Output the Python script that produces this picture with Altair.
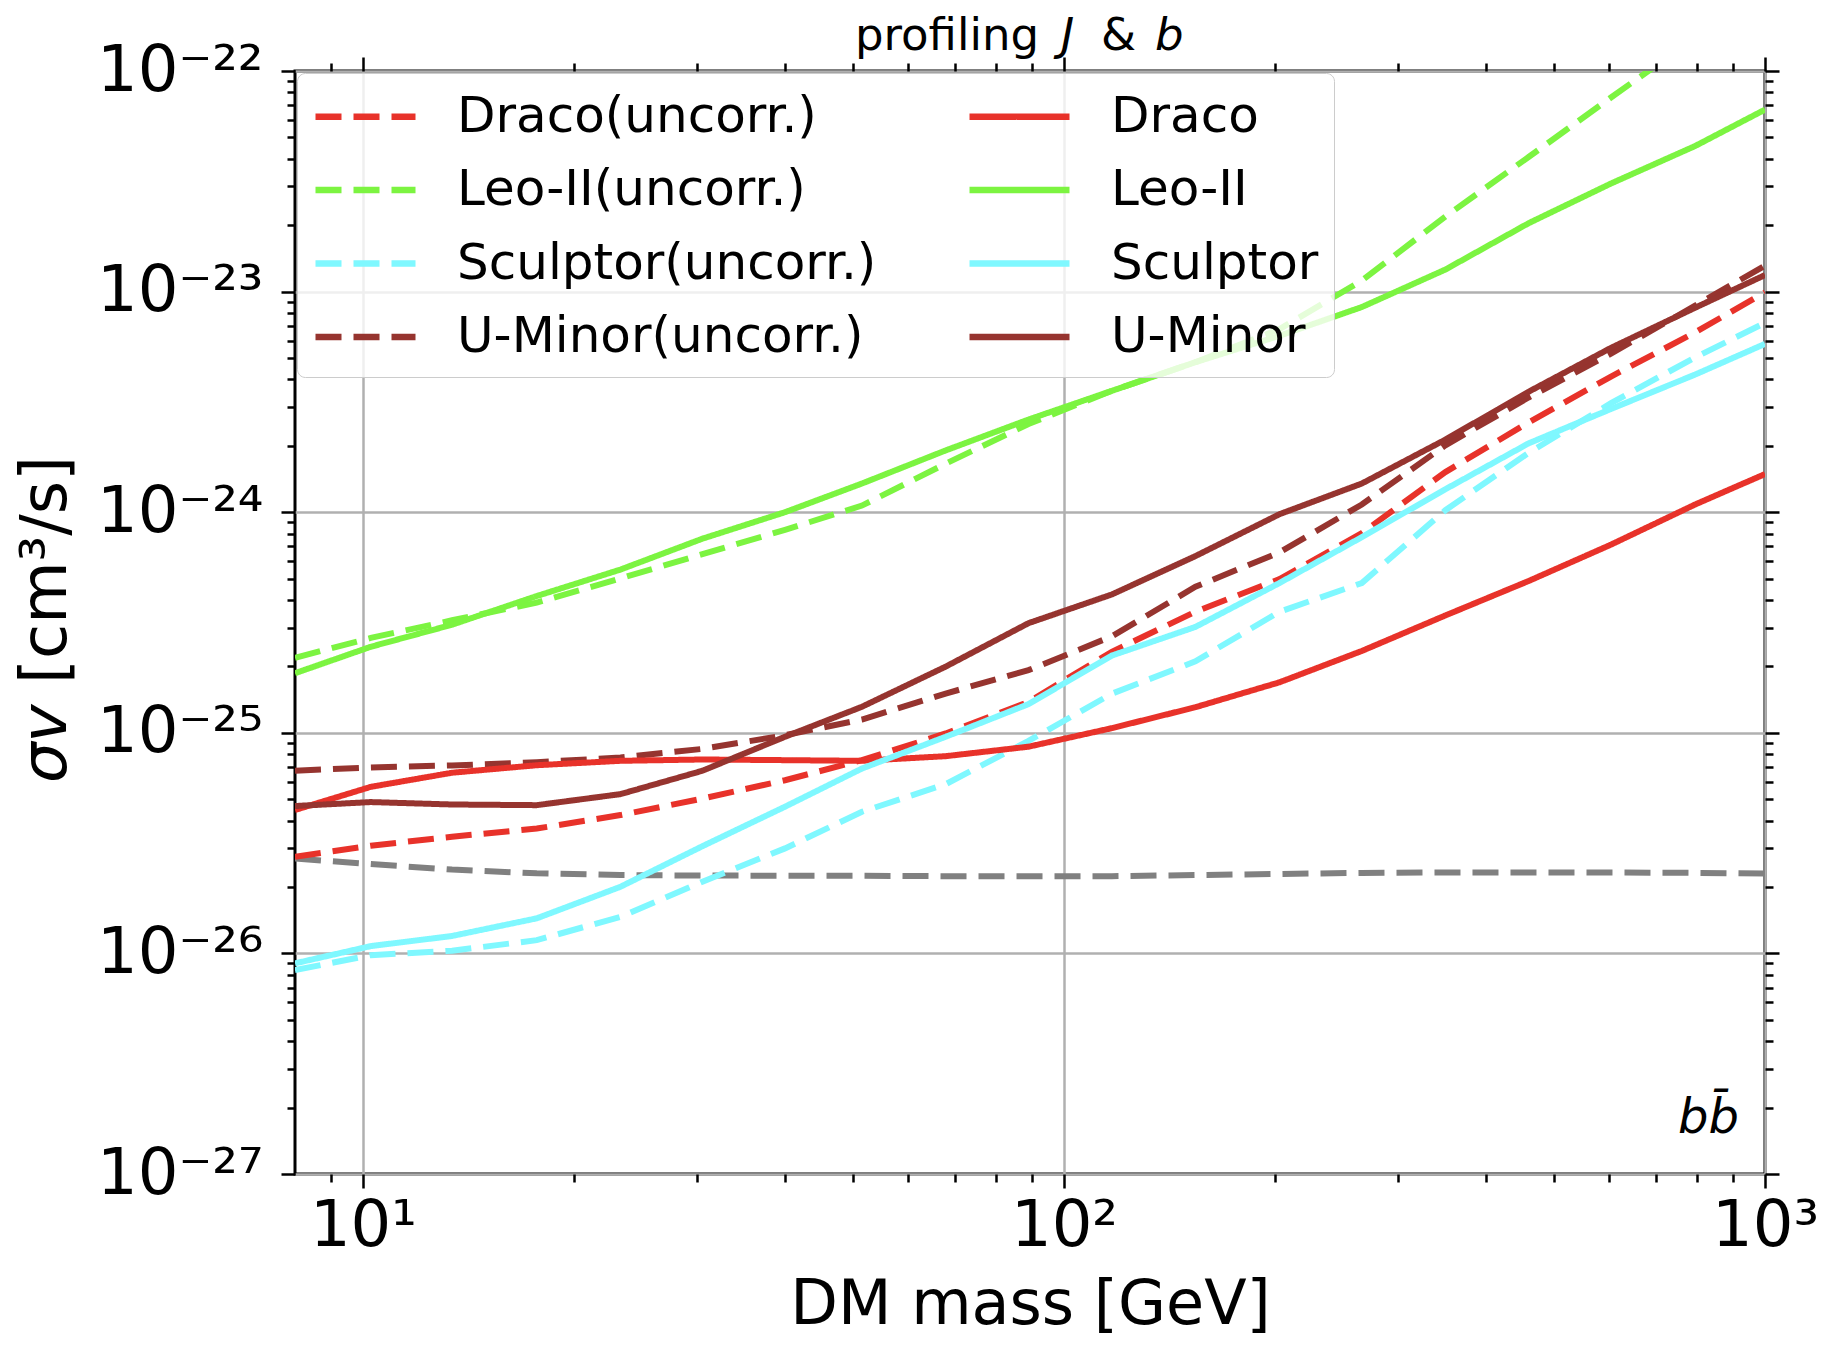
import altair as alt
import pandas as pd

FONT = "DejaVu Sans"

# DM mass grid [GeV]
mass = [8, 10.26, 13.4, 17.7, 23.3, 30.5, 40, 51.5, 67.8, 89, 117, 154, 203, 266, 350, 460, 603, 795, 1000]

# log10(sigma v)
draco_unc_log10 = [-25.562, -25.512, -25.471, -25.434, -25.373, -25.298, -25.215, -25.124, -25.003, -24.86,
                   -24.633, -24.451, -24.303, -24.095, -23.818, -23.593, -23.385, -23.185, -23.003]
draco_log10 = [-25.350, -25.245, -25.181, -25.147, -25.127, -25.121, -25.124, -25.127, -25.106, -25.063,
               -24.979, -24.884, -24.771, -24.629, -24.468, -24.312, -24.147, -23.965, -23.827]
leo_unc_log10 = [-24.66, -24.57, -24.49, -24.41, -24.30, -24.19, -24.08, -23.97, -23.78, -23.60,
                 -23.45, -23.32, -23.17, -22.95, -22.66, -22.39, -22.12, -21.85, -21.62]
leo_log10 = [-24.73, -24.61, -24.51, -24.38, -24.26, -24.12, -24.00, -23.87, -23.72, -23.58,
             -23.45, -23.32, -23.20, -23.07, -22.90, -22.69, -22.51, -22.34, -22.175]
scl_unc_log10 = [-26.076, -26.008, -25.988, -25.94, -25.834, -25.675, -25.524, -25.358, -25.233, -25.037,
                 -24.823, -24.676, -24.451, -24.321, -23.991, -23.731, -23.506, -23.298, -23.142]
scl_log10 = [-26.045, -25.967, -25.921, -25.841, -25.698, -25.514, -25.335, -25.162, -25.018, -24.87,
             -24.65, -24.52, -24.321, -24.113, -23.896, -23.688, -23.532, -23.376, -23.237]
umi_unc_log10 = [-25.172, -25.157, -25.148, -25.133, -25.112, -25.073, -25.011, -24.94, -24.822, -24.716,
                 -24.563, -24.338, -24.182, -23.965, -23.697, -23.48, -23.281, -23.064, -22.882]
umi_log10 = [-25.332, -25.314, -25.325, -25.328, -25.278, -25.172, -25.018, -24.882, -24.70, -24.503,
             -24.373, -24.199, -24.009, -23.870, -23.671, -23.454, -23.255, -23.073, -22.925]
relic_log10 = [-25.57, -25.595, -25.62, -25.637, -25.645, -25.647, -25.648, -25.648, -25.65, -25.65,
               -25.65, -25.645, -25.64, -25.635, -25.633, -25.633, -25.633, -25.635, -25.638]

# legend fills column by column: uncorrelated limits on the left, profiled ones on the right
series_names = ["Draco(uncorr.)", "Leo-II(uncorr.)", "Sculptor(uncorr.)", "U-Minor(uncorr.)",
                "Draco", "Leo-II", "Sculptor", "U-Minor"]
series_values = [draco_unc_log10, leo_unc_log10, scl_unc_log10, umi_unc_log10,
                 draco_log10, leo_log10, scl_log10, umi_log10]
RED, GREEN, CYAN, BROWN = "#e8322a", "#7cf441", "#7ff8ff", "#96342f"
series_colors = [RED, GREEN, CYAN, BROWN, RED, GREEN, CYAN, BROWN]
DASH = [26, 12]
SOLID = [1, 0]
series_dashes = [DASH, DASH, DASH, DASH, SOLID, SOLID, SOLID, SOLID]

x_major = [10, 100, 1000]
x_major_labels = ["10¹", "10²", "10³"]
x_minor = [9] + [k * 10 for k in range(2, 10)] + [k * 100 for k in range(2, 10)]
y_exponents = [-27, -26, -25, -24, -23, -22]
y_major = [10.0 ** e for e in y_exponents]
y_major_labels = ["10⁻²⁷", "10⁻²⁶", "10⁻²⁵", "10⁻²⁴", "10⁻²³", "10⁻²²"]
y_minor = [k * 10.0 ** e for e in y_exponents[:-1] for k in range(2, 10)]

rows = []
for name, vals in zip(series_names, series_values):
    for m, e in zip(mass, vals):
        rows.append({"mass": m, "sv": 10.0 ** e, "series": name})
df = pd.DataFrame(rows)
relic_df = pd.DataFrame({"mass": mass, "sv": [10.0 ** e for e in relic_log10]})


def label_expr(exps, labels):
    parts = [f"round(log(datum.value)/LN10) == {e} ? '{l}'" for e, l in zip(exps, labels)]
    return " : ".join(parts) + " : ''"


x_scale = alt.Scale(type="log", domain=[8, 1000], nice=False)
y_scale = alt.Scale(type="log", domain=[1e-27, 1e-22], nice=False)

tick_common = dict(domain=False, tickColor="black", tickWidth=2.5)

ax_x_bottom = alt.Axis(orient="bottom", values=x_major, tickSize=14, grid=True, gridColor="#b0b0b0",
                       gridWidth=2.5, labelExpr=label_expr([1, 2, 3], x_major_labels), labelFont=FONT,
                       labelFontSize=64, labelColor="black", labelPadding=6, labelFlush=False,
                       labelOverlap=False, title="DM mass [GeV]", titleFont=FONT, titleFontSize=62,
                       titleFontWeight="normal", titleColor="black", titlePadding=16, **tick_common)
ax_y_left = alt.Axis(orient="left", values=y_major, tickSize=14, grid=True, gridColor="#b0b0b0",
                     gridWidth=2.5, labelExpr=label_expr(y_exponents, y_major_labels), labelFont=FONT,
                     labelFontSize=64, labelColor="black", labelPadding=18, labelFlush=False,
                     labelOverlap=False, title=None, **tick_common)


def plain_axis(orient, values, size):
    return alt.Axis(orient=orient, values=values, tickSize=size, grid=False, labels=False,
                    title=None, **tick_common)


legend = alt.Legend(orient="none", legendX=2, legendY=2, columns=2, title=None,
                    symbolType="M-1,0H3", symbolSize=2500, symbolStrokeWidth=6.5,
                    labelFont=FONT, labelFontSize=50, labelColor="black", labelOffset=88,
                    labelLimit=2000, columnPadding=79, rowPadding=19.5, padding=15,
                    fillColor="rgba(255,255,255,0.8)", strokeColor="#cccccc", cornerRadius=8)

lines = alt.Chart(df).mark_line(strokeWidth=6, clip=True).encode(
    x=alt.X("mass:Q", scale=x_scale, axis=ax_x_bottom),
    y=alt.Y("sv:Q", scale=y_scale, axis=ax_y_left),
    color=alt.Color("series:N", scale=alt.Scale(domain=series_names, range=series_colors), legend=legend),
    strokeDash=alt.StrokeDash("series:N", scale=alt.Scale(domain=series_names, range=series_dashes),
                              legend=legend),
)

relic = alt.Chart(relic_df).mark_line(strokeWidth=6, clip=True, color="#808080", strokeDash=DASH).encode(
    x=alt.X("mass:Q", scale=x_scale, axis=None),
    y=alt.Y("sv:Q", scale=y_scale, axis=None),
)


def axis_layer(xaxis, yaxis):
    return alt.Chart(relic_df).mark_line(opacity=0).encode(
        x=alt.X("mass:Q", scale=x_scale, axis=xaxis),
        y=alt.Y("sv:Q", scale=y_scale, axis=yaxis),
    )


ax_minor_bl = axis_layer(plain_axis("bottom", x_minor, 8), plain_axis("left", y_minor, 8))
ax_major_tr = axis_layer(plain_axis("top", x_major, 14), plain_axis("right", y_major, 14))
ax_minor_tr = axis_layer(plain_axis("top", x_minor, 8), plain_axis("right", y_minor, 8))


def text_layer(txt, style, size, xp, yp, align="left", baseline="alphabetic", angle=0):
    return alt.Chart(pd.DataFrame({"t": [txt]})).mark_text(
        font=FONT, fontSize=size, fontStyle=style, align=align, baseline=baseline,
        angle=angle, color="black").encode(text="t:N", x=alt.value(xp), y=alt.value(yp))


# channel label inside the frame
channel = text_layer("bb\u0304", "italic", 48, 1444, 1062, align="right")

# title: "profiling J & b" with italic symbols
title_parts = ["profiling", "J", "&", "b"]
title_styles = ["normal", "italic", "normal", "italic"]
title_x = [560, 766, 806, 860]
title_layers = [text_layer(t, s, 45, xp, -21) for t, s, xp in zip(title_parts, title_styles, title_x)]

# y-axis title: "σv [cm³/s]" with italic σv, rotated
ytitle_parts = ["σv", "[cm³/s]"]
ytitle_styles = ["italic", "normal"]
ytitle_y = [712, 613]
ytitle_layers = [text_layer(t, s, 64, -248, yp, baseline="middle", angle=270)
                 for t, s, yp in zip(ytitle_parts, ytitle_styles, ytitle_y)]

chart = alt.layer(relic, lines, ax_minor_bl, ax_major_tr, ax_minor_tr, channel,
                  *title_layers, *ytitle_layers).resolve_axis(
    x="independent", y="independent"
).properties(
    width=1470, height=1103,
    autosize=alt.AutoSizeParams(type="none"),
    padding={"left": 287, "top": 63, "right": 70, "bottom": 175},
).configure_view(stroke="black", strokeWidth=3)

chart.save("out.html", embed_options={"renderer": "svg", "actions": False})
